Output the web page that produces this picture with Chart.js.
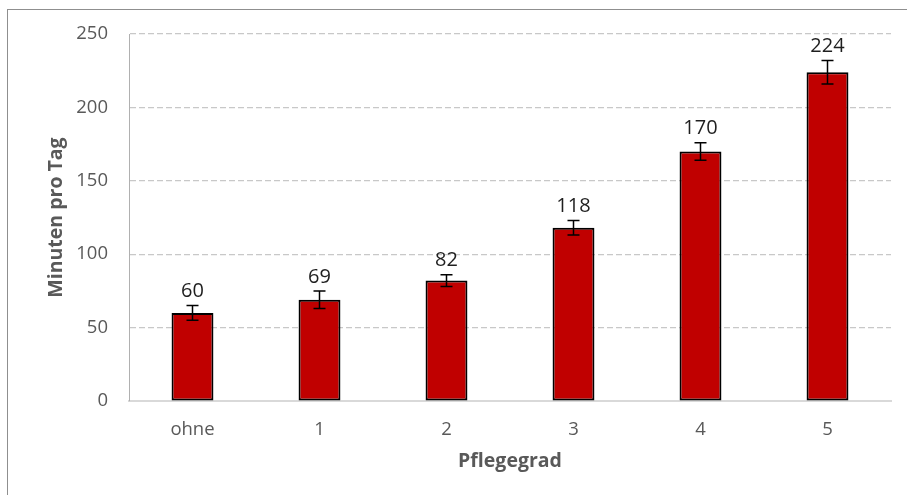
<!DOCTYPE html>
<html>
<head>
<meta charset="utf-8">
<script src="https://cdn.jsdelivr.net/npm/chart.js@4.4.1/dist/chart.umd.min.js"></script>
<style>
  html, body { margin: 0; padding: 0; background: #fff; overflow: hidden; }
  #wrap { position: relative; width: 907px; height: 495px; }
  #rahmen { position: absolute; left: 7px; top: 9px; width: 1000px; height: 1000px;
    border-left: 1px solid #8f8f8f; border-top: 1px solid #8f8f8f; }
  #myChart { position: absolute; left: 0; top: 0; }
</style>
</head>
<body>
<div id="wrap">
  <div id="rahmen"></div>
  <canvas id="myChart" width="907" height="495"></canvas>
</div>
<script>
// Daten
const kategorien = ["ohne", "1", "2", "3", "4", "5"];
const minuten = [60, 69, 82, 118, 170, 224];
const fehler = [5, 6, 4, 5, 6, 8];
const yTicks = [0, 50, 100, 150, 200, 250];

const schrift = "'Open Sans', 'Noto Sans', sans-serif";

// Fehlerbalken + Werte über den Balken
const fehlerPlugin = {
  id: "fehlerbalken",
  afterDatasetsDraw(chart) {
    const ctx = chart.ctx;
    const yScale = chart.scales.y;
    const meta = chart.getDatasetMeta(0);
    ctx.save();
    meta.data.forEach((bar, i) => {
      const oben = yScale.getPixelForValue(minuten[i] + fehler[i]);
      const unten = yScale.getPixelForValue(minuten[i] - fehler[i]);
      ctx.strokeStyle = "#000";
      ctx.lineWidth = 1.5;
      ctx.beginPath();
      ctx.moveTo(bar.x, oben);
      ctx.lineTo(bar.x, unten);
      ctx.moveTo(bar.x - 6, oben);
      ctx.lineTo(bar.x + 6, oben);
      ctx.moveTo(bar.x - 6, unten);
      ctx.lineTo(bar.x + 6, unten);
      ctx.stroke();

      ctx.fillStyle = "#1f1f1f";
      ctx.font = "20px " + schrift;
      ctx.textAlign = "center";
      ctx.textBaseline = "bottom";
      ctx.fillText(String(minuten[i]), bar.x, oben - 4);
    });
    ctx.restore();
  },
};

const config = {
  type: "bar",
  data: {
    labels: kategorien,
    datasets: [
      {
        data: minuten,
        backgroundColor: "#c00000",
        borderColor: "#000",
        borderWidth: 2,
        borderSkipped: false,
        barPercentage: 0.33,
        categoryPercentage: 1,
      },
    ],
  },
  options: {
    responsive: false,
    animation: false,
    layout: { padding: { top: 34, right: 16, left: 0, bottom: 0 } },
    plugins: {
      legend: { display: false },
      tooltip: { enabled: false },
    },
    scales: {
      x: {
        grid: { display: false },
        border: { display: true, color: "#d9d9d9", width: 2 },
        ticks: {
          color: "#595959",
          font: { family: schrift, size: 18.5 },
          padding: 10,
          maxRotation: 0,
          autoSkip: false,
        },
        title: {
          display: true,
          text: "Pflegegrad",
          color: "#595959",
          font: { family: schrift, size: 19.5, weight: "bold" },
          padding: { top: 0, bottom: 22 },
        },
        afterFit(scale) {
          scale.height = 94;
        },
      },
      y: {
        min: 0,
        max: 250,
        afterBuildTicks(scale) {
          scale.ticks = yTicks.map((v) => ({ value: v }));
        },
        grid: {
          color: "#c8c8c8",
          lineWidth: 1.2,
          drawTicks: false,
        },
        border: { display: true, color: "#b0b0b0", width: 1, dash: [6, 3] },
        ticks: {
          color: "#595959",
          font: { family: schrift, size: 18.5 },
          padding: 21,
        },
        title: {
          display: true,
          text: "Minuten pro Tag",
          color: "#595959",
          font: { family: schrift, size: 19.5, weight: "bold" },
          padding: { top: 45, bottom: 0 },
        },
        afterFit(scale) {
          scale.width = 129;
        },
      },
    },
  },
  plugins: [fehlerPlugin],
};

const chartInstance = new Chart(document.getElementById("myChart"), config);
</script>
</body>
</html>
